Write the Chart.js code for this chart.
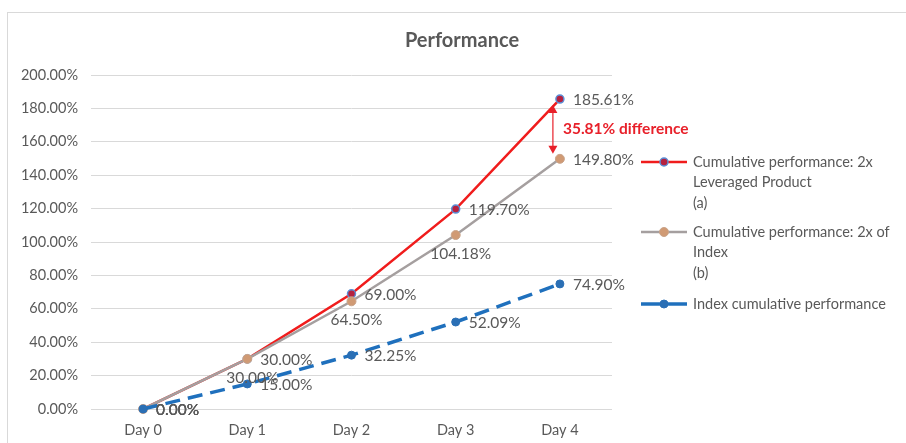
<!DOCTYPE html>
<html>
<head>
<meta charset="utf-8">
<script src="https://cdn.jsdelivr.net/npm/chart.js@4.4.1/dist/chart.umd.min.js"></script>
<style>
  html, body { margin: 0; padding: 0; background: #fff; overflow: hidden; }
  #frame { position: absolute; left: 7px; top: 12px; width: 930px; height: 470px; border: 1px solid #d9d9d9; }
  #wrap { position: absolute; left: 0; top: 0; width: 906px; height: 443px; }
</style>
</head>
<body>
<div id="frame"></div>
<div id="wrap"><canvas id="perfChart" width="906" height="443"></canvas></div>
<script>
// data
const days = ['Day 0', 'Day 1', 'Day 2', 'Day 3', 'Day 4'];
const leveraged = [0, 30, 69, 119.70, 185.61];
const twoTimesIndex = [0, 30, 64.50, 104.18, 149.80];
const indexPerf = [0, 15, 32.25, 52.09, 74.90];
const yMin = 0, yMax = 200, yStep = 20;

const legendLeveraged = ['Cumulative performance: 2x', 'Leveraged Product', '(a)'];
const legendTwoTimes = ['Cumulative performance: 2x of', 'Index', '(b)'];
const legendIndex = ['Index cumulative performance'];
const chartTitle = 'Performance';

// where each data label sits relative to its point
const leveragedLabelPos = ['right', 'right', 'right', 'right', 'right'];
const twoTimesLabelPos = ['right', 'below', 'below', 'below', 'right'];
const indexLabelPos = ['right', 'right', 'right', 'right', 'right'];

const FONT = 'Lato, "Open Sans", sans-serif';
const GREY_TEXT = '#595959';

const fmt = v => v.toFixed(2) + '%';

const labelsPlugin = {
  id: 'pointLabels',
  afterDatasetsDraw(chart) {
    const ctx = chart.ctx;
    ctx.save();
    ctx.font = '15.5px ' + FONT;
    ctx.fillStyle = GREY_TEXT;
    ctx.textBaseline = 'middle';
    chart.data.datasets.forEach((ds, i) => {
      const meta = chart.getDatasetMeta(i);
      meta.data.forEach((pt, j) => {
        const pos = ds.labelPos[j];
        const txt = fmt(ds.data[j]);
        if (pos === 'below') {
          ctx.textAlign = 'center';
          ctx.fillText(txt, pt.x + 5, pt.y + 19);
        } else {
          ctx.textAlign = 'left';
          ctx.fillText(txt, pt.x + 13, pt.y + 1);
        }
      });
    });
    ctx.restore();
  }
};

const extrasPlugin = {
  id: 'extras',
  afterDraw(chart) {
    const ctx = chart.ctx;
    const xs = chart.scales.x, ys = chart.scales.y;
    ctx.save();

    // title
    ctx.font = 'bold 20px ' + FONT;
    ctx.fillStyle = GREY_TEXT;
    ctx.textAlign = 'center';
    ctx.textBaseline = 'middle';
    ctx.fillText(chartTitle, 462, 41);

    // difference arrow between the last two points
    const last = days.length - 1;
    const ax = xs.getPixelForValue(last) - 7;
    const yTop = ys.getPixelForValue(leveraged[last]) + 6;
    const yBot = ys.getPixelForValue(twoTimesIndex[last]) - 5;
    ctx.strokeStyle = '#e8202a';
    ctx.fillStyle = '#e8202a';
    ctx.lineWidth = 1.2;
    ctx.beginPath(); ctx.moveTo(ax, yTop + 6); ctx.lineTo(ax, yBot - 6); ctx.stroke();
    ctx.beginPath(); ctx.moveTo(ax, yTop); ctx.lineTo(ax - 4.5, yTop + 8); ctx.lineTo(ax + 4.5, yTop + 8); ctx.closePath(); ctx.fill();
    ctx.beginPath(); ctx.moveTo(ax, yBot); ctx.lineTo(ax - 4.5, yBot - 8); ctx.lineTo(ax + 4.5, yBot - 8); ctx.closePath(); ctx.fill();
    ctx.font = 'bold 15.5px ' + FONT;
    ctx.textAlign = 'left';
    ctx.fillText(fmt(leveraged[last] - twoTimesIndex[last]) + ' difference', ax + 10, (yTop + yBot) / 2);

    // legend on the right
    const items = [
      { ds: chart.data.datasets[0], lines: legendLeveraged, y: 162 },
      { ds: chart.data.datasets[1], lines: legendTwoTimes, y: 232 },
      { ds: chart.data.datasets[2], lines: legendIndex, y: 304 }
    ];
    items.forEach(it => {
      ctx.strokeStyle = it.ds.borderColor;
      ctx.lineWidth = it.ds.borderWidth;
      ctx.beginPath(); ctx.moveTo(641, it.y); ctx.lineTo(687, it.y); ctx.stroke();
      ctx.beginPath(); ctx.arc(664, it.y, it.ds.pointRadius, 0, Math.PI * 2);
      ctx.fillStyle = it.ds.pointBackgroundColor; ctx.fill();
      ctx.lineWidth = it.ds.pointBorderWidth; ctx.strokeStyle = it.ds.pointBorderColor; ctx.stroke();
      ctx.font = '14.5px ' + FONT;
      ctx.fillStyle = GREY_TEXT;
      ctx.textAlign = 'left';
      ctx.textBaseline = 'middle';
      it.lines.forEach((ln, k) => ctx.fillText(ln, 693, it.y + k * 20.5));
    });
    ctx.restore();
  }
};

new Chart(document.getElementById('perfChart'), {
  type: 'line',
  data: {
    labels: days,
    datasets: [
      {
        label: legendLeveraged.join(' '),
        data: leveraged,
        labelPos: leveragedLabelPos,
        borderColor: '#f01c1c',
        borderWidth: 2.5,
        pointRadius: 4,
        pointBackgroundColor: '#b5213f',
        pointBorderColor: '#5b8fd6',
        pointBorderWidth: 1.5,
        order: 3,
        clip: false
      },
      {
        label: legendTwoTimes.join(' '),
        data: twoTimesIndex,
        labelPos: twoTimesLabelPos,
        borderColor: '#a59f9f',
        borderWidth: 2.5,
        pointRadius: 4.5,
        pointBackgroundColor: '#d09a74',
        pointBorderColor: '#c9a48a',
        pointBorderWidth: 1,
        order: 2,
        clip: false
      },
      {
        label: legendIndex[0],
        data: indexPerf,
        labelPos: indexLabelPos,
        borderColor: '#1f70bd',
        borderWidth: 3.5,
        borderDash: [15, 8],
        pointRadius: 4,
        pointBackgroundColor: '#2a6fb5',
        pointBorderColor: '#2a6fb5',
        pointBorderWidth: 1,
        order: 1,
        clip: false
      }
    ]
  },
  options: {
    responsive: false,
    animation: false,
    layout: { padding: { left: 0, right: 294, top: 75, bottom: 0 } },
    plugins: {
      legend: { display: false },
      title: { display: false },
      tooltip: { enabled: false }
    },
    scales: {
      x: {
        offset: true,
        grid: { display: false, drawTicks: false },
        border: { display: false },
        ticks: { color: GREY_TEXT, font: { family: FONT, size: 14.5 }, padding: 13 },
        afterFit(s) { s.height = 34; }
      },
      y: {
        min: yMin,
        max: yMax,
        grid: { color: '#d9d9d9', drawTicks: false },
        border: { display: false },
        ticks: {
          stepSize: yStep,
          color: GREY_TEXT,
          font: { family: FONT, size: 14.5 },
          padding: 13,
          callback: v => fmt(v)
        },
        afterFit(s) { s.width = 91; }
      }
    }
  },
  plugins: [labelsPlugin, extrasPlugin]
});
</script>
</body>
</html>
